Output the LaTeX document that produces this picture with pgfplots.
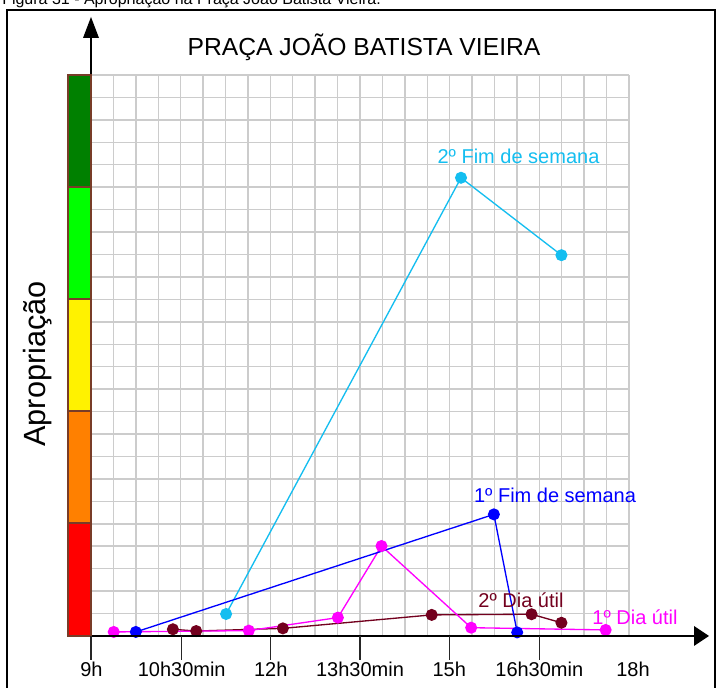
\documentclass[border=0pt]{standalone}
\usepackage{pgfplots}
\pgfplotsset{compat=1.18}
\usepackage{fontspec}
\setmainfont{Liberation Sans}

\definecolor{gridgray}{RGB}{204,204,204}
\definecolor{dkgreen}{RGB}{0,128,0}
\definecolor{ltgreen}{RGB}{0,255,0}
\definecolor{orng}{RGB}{255,128,0}
\definecolor{barbrown}{RGB}{120,60,40}
\definecolor{cyanS}{RGB}{20,190,240}
\definecolor{blueS}{RGB}{0,0,255}
\definecolor{magS}{RGB}{255,0,255}
\definecolor{darkredS}{RGB}{115,0,30}

\begin{document}
\begin{tikzpicture}[x=0.75pt,y=0.75pt]
\useasboundingbox (0,0) rectangle (719,688);
\clip (0,0) rectangle (719,688);
\fill[white] (0,0) rectangle (719,688);
% caption (cut at top)
\node[anchor=base west, inner sep=0, font=\fontsize{12}{14}\selectfont] at (2,683) {Figura 31 - Apropriação na Praça João Batista Vieira.};
% frame
\draw[line width=1.5pt] (7,-10) -- (7,678) -- (715,678) -- (715,-10);

\begin{axis}[
  at={(68.25pt,39pt)}, anchor=south west,
  scale only axis, width=403.5pt, height=420.75pt,
  xmin=9, xmax=18, ymin=0, ymax=25,
  xtick={9,9.375,...,18}, ytick={0,1,...,25},
  xticklabels={}, yticklabels={},
  major tick length=0pt,
  axis line style={draw=none},
  grid=major, grid style={gridgray, line width=1.1pt},
  clip=false,
]
\addplot[cyanS, line width=1pt, mark=*, mark size=4pt, mark options={fill=cyanS, draw=cyanS}]
  coordinates {(11.26,0.98) (15.19,20.42) (16.87,16.97)};
\addplot[darkredS, line width=1pt, mark=*, mark size=4pt, mark options={fill=darkredS, draw=darkredS}]
  coordinates {(10.37,0.30) (10.76,0.22) (12.21,0.34) (14.70,0.94) (16.37,0.97) (16.87,0.59)};
\addplot[magS, line width=1pt, mark=*, mark size=4pt, mark options={fill=magS, draw=magS}]
  coordinates {(9.38,0.18) (11.64,0.24) (13.13,0.82) (13.86,4.01) (15.36,0.37) (17.61,0.27)};
\addplot[blueS, line width=1pt, mark=*, mark size=4pt, mark options={fill=blueS, draw=blueS}]
  coordinates {(9.75,0.18) (15.74,5.42) (16.13,0.16)};
\end{axis}

% axes
\draw[line width=1.2pt] (91,52) -- (91,652);
\fill (83,650) -- (99,650) -- (91,671) -- cycle;
\draw[line width=1.6pt] (68,52) -- (696,52);
\fill (694,62) -- (694,42) -- (709,52) -- cycle;
% colour bar
\foreach \ya/\yb/\c in {52/165/red,165/277/orng,277/389/yellow,389/501/ltgreen,501/613/dkgreen}{
  \filldraw[fill=\c, draw=barbrown, line width=0.8pt] (68,\ya) rectangle (91,\yb);
}
% x ticks
\foreach \px in {91,181.7,270.7,360,449.3,539.3}{
  \draw[line width=1.1pt, black!85] (\px,52) -- (\px,28);
}
\foreach \px/\t in {91.5/9h,181.7/10h30min,270.7/12h,360/13h30min,449.3/15h,539.3/16h30min,633/18h}{
  \node[anchor=base, inner sep=0, font=\fontsize{15}{17}\selectfont] at (\px,11) {\t};
}
% y label
\node[rotate=90, font=\fontsize{23}{26}\selectfont, inner sep=0] at (38,324) {Apropriação};
% title
\node[anchor=base, inner sep=0, font=\fontsize{18.5}{21}\selectfont] at (364,632) {PRAÇA JOÃO BATISTA VIEIRA};
% series labels
\node[anchor=base, inner sep=0, text=cyanS, font=\fontsize{15}{17}\selectfont] at (518.5,524) {2º Fim de semana};
\node[anchor=base, inner sep=0, text=blueS, font=\fontsize{15}{17}\selectfont] at (555,185) {1º Fim de semana};
\node[anchor=base, inner sep=0, text=darkredS, font=\fontsize{15}{17}\selectfont] at (521,80) {2º Dia útil};
\node[anchor=base, inner sep=0, text=magS, font=\fontsize{15}{17}\selectfont] at (635,63) {1º Dia útil};
\end{tikzpicture}
\end{document}
